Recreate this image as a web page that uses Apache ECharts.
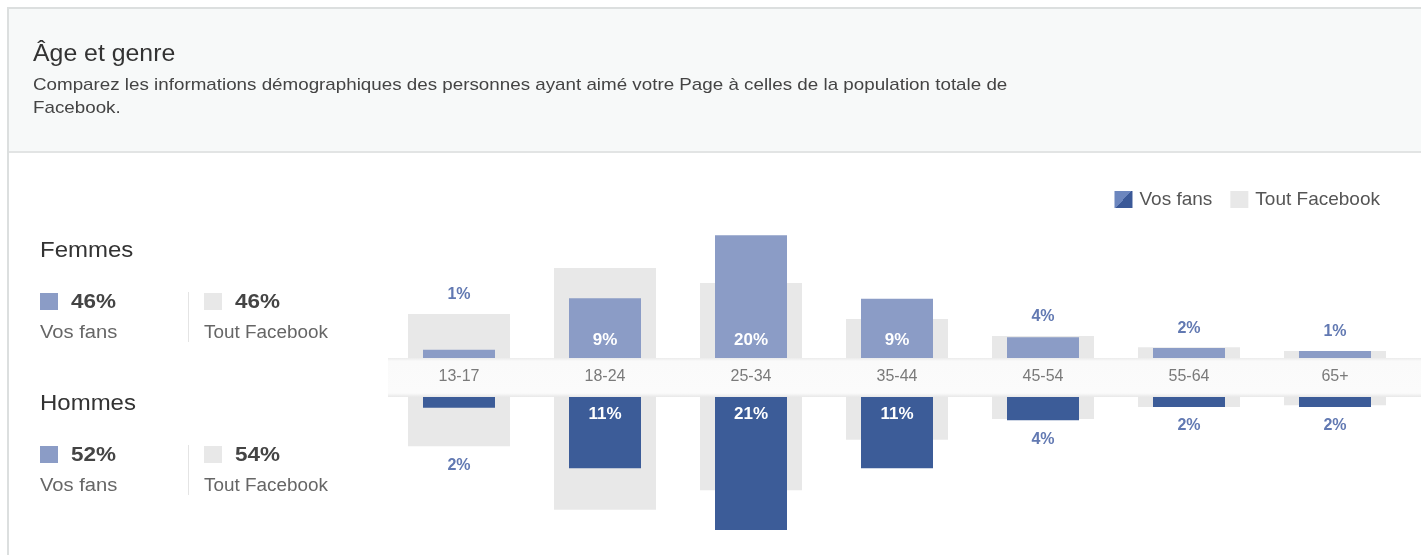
<!DOCTYPE html>
<html><head><meta charset="utf-8">
<script src="https://cdn.jsdelivr.net/npm/echarts@6/dist/echarts.min.js"></script>
<style>html,body{margin:0;padding:0;background:#fff}#c{width:1421px;height:555px}</style>
</head><body><div id="c"></div>
<script>
// ---- data ----
const categories = ['13-17', '18-24', '25-34', '35-44', '45-54', '55-64', '65+'];
const femmesFans = [1.3, 9.5, 19.5, 9.4, 3.3, 1.6, 1.1];
const femmesFacebook = [7.0, 14.3, 11.9, 6.2, 3.5, 1.7, 1.1];
const hommesFans = [1.7, 11.3, 21.1, 11.3, 3.7, 1.6, 1.6];
const hommesFacebook = [7.8, 17.9, 14.8, 6.8, 3.5, 1.6, 1.3];
const femmesLabels = ['1%', '9%', '20%', '9%', '4%', '2%', '1%'];
const hommesLabels = ['2%', '11%', '21%', '11%', '4%', '2%', '2%'];
const totalsFemmes = ['46%', '46%'];
const totalsHommes = ['52%', '54%'];
const legendNames = ['Vos fans', 'Tout Facebook'];

// ---- style ----
const FONT = '"Liberation Sans", Arial, sans-serif';
const C_FEM = '#8b9cc6', C_HOM = '#3c5c98', C_FB = '#e8e8e8', C_LBL = '#6279b2';
const YMAX = 24, PX = 6.3;
const bandTop = 358, bandBottom = 397, gridH = YMAX * PX;
const gridLeft = 386, gridWidth = 1022;
const INSIDE_MIN = 6;

function items(fans, fb, labels, isTop) {
  const fanItems = [], fbItems = [];
  fans.forEach((v, i) => {
    const inside = v >= INSIDE_MIN;
    const outPos = isTop ? 'top' : 'bottom';
    fanItems.push({
      value: v,
      label: {
        show: inside || v > fb[i],
        position: inside ? (isTop ? 'insideBottom' : 'insideTop') : outPos,
        color: inside ? '#ffffff' : C_LBL,
        distance: inside ? 9 : 11,
        fontSize: inside ? 17 : 16,
        formatter: labels[i]
      }
    });
    fbItems.push({
      value: fb[i],
      label: { show: !inside && fb[i] >= v, position: outPos, color: C_LBL, distance: 11, fontSize: 16, formatter: labels[i] }
    });
  });
  return { fanItems, fbItems };
}
const fem = items(femmesFans, femmesFacebook, femmesLabels, true);
const hom = items(hommesFans, hommesFacebook, hommesLabels, false);

const baseLabel = { fontFamily: FONT, fontWeight: 'bold' };
const hiddenX = (g) => ({ type: 'category', gridIndex: g, data: categories, show: false });

function txt(x, y, text, font, fill, sx) {
  return { type: 'text', x: x, y: y, scaleX: sx, style: { text: text, font: font, fill: fill, textVerticalAlign: 'middle' } };
}

function panel(y0, heading, totals) {
  return [
    txt(40, y0, heading, '22px ' + FONT, '#333', 1.09),
    { type: 'rect', shape: { x: 40, y: y0 + 42, width: 18, height: 17 }, style: { fill: C_FEM } },
    txt(71, y0 + 51, totals[0], 'bold 21px ' + FONT, '#444', 1.07),
    txt(40, y0 + 82, legendNames[0], '18px ' + FONT, '#666', 1.12),
    { type: 'rect', shape: { x: 188, y: y0 + 41, width: 1, height: 50 }, style: { fill: '#e4e4e4' } },
    { type: 'rect', shape: { x: 204, y: y0 + 42, width: 18, height: 17 }, style: { fill: C_FB } },
    txt(235, y0 + 51, totals[1], 'bold 21px ' + FONT, '#444', 1.07),
    txt(204, y0 + 82, legendNames[1], '18px ' + FONT, '#666', 1.05)
  ];
}

const chart = echarts.init(document.getElementById('c'));
chart.setOption({
  animation: false,
  backgroundColor: '#ffffff',
  textStyle: { fontFamily: FONT },
  graphic: [
    { type: 'rect', z: -10, shape: { x: 9, y: 9, width: 1412, height: 143 }, style: { fill: '#f7f9f9' } },
    { type: 'rect', z: -10, shape: { x: 7, y: 7, width: 1414, height: 2 }, style: { fill: '#dcdfdf' } },
    { type: 'rect', z: -10, shape: { x: 7, y: 7, width: 2, height: 548 }, style: { fill: '#dcdfdf' } },
    { type: 'rect', z: -10, shape: { x: 9, y: 151, width: 1412, height: 2 }, style: { fill: '#e2e4e4' } },
    txt(33, 55, 'Âge et genre', '23px ' + FONT, '#333', 1.08),
    txt(33, 85, 'Comparez les informations démographiques des personnes ayant aimé votre Page à celles de la population totale de', '17px ' + FONT, '#444', 1.105),
    txt(33, 108, 'Facebook.', '17px ' + FONT, '#444', 1.105),
    { type: 'rect', z: 0, shape: { x: 388, y: bandTop, width: 1033, height: bandBottom - bandTop },
      style: { fill: new echarts.graphic.LinearGradient(0, 0, 0, 1, [
        { offset: 0, color: '#ebebeb' }, { offset: 0.08, color: '#fafafa' },
        { offset: 0.9, color: '#fbfbfb' }, { offset: 1, color: '#e8e8e8' }]) } },
    ...panel(251, 'Femmes', totalsFemmes),
    ...panel(404, 'Hommes', totalsHommes)
  ],
  legend: {
    right: 36, top: 185, itemWidth: 18, itemHeight: 17, itemGap: 18, icon: 'rect',
    textStyle: { fontSize: 19, color: '#555', fontFamily: FONT, padding: [0, 0, 0, 2] },
    data: [
      { name: legendNames[0], itemStyle: { color: new echarts.graphic.LinearGradient(0, 0, 1, 1, [
        { offset: 0, color: '#6c86be' }, { offset: 0.5, color: '#6c86be' },
        { offset: 0.5, color: '#3b5998' }, { offset: 1, color: '#3b5998' }]) } },
      { name: legendNames[1], itemStyle: { color: C_FB } }
    ]
  },
  grid: [
    { left: gridLeft, width: gridWidth, top: bandTop - gridH, height: gridH },
    { left: gridLeft, width: gridWidth, top: bandBottom, height: gridH }
  ],
  xAxis: [
    { type: 'category', gridIndex: 0, data: categories, position: 'bottom', z: 10,
      axisLine: { show: false }, axisTick: { show: false },
      axisLabel: { margin: 11, fontSize: 16, color: '#7a7a7a', fontFamily: FONT } },
    hiddenX(0), hiddenX(1), hiddenX(1)
  ],
  yAxis: [
    { type: 'value', gridIndex: 0, min: 0, max: YMAX, show: false, splitLine: { show: false } },
    { type: 'value', gridIndex: 1, min: 0, max: YMAX, inverse: true, show: false, splitLine: { show: false } }
  ],
  series: [
    { name: legendNames[1], type: 'bar', xAxisIndex: 1, yAxisIndex: 0, barWidth: 102, z: 1,
      itemStyle: { color: C_FB }, label: baseLabel, data: fem.fbItems },
    { name: legendNames[0], type: 'bar', xAxisIndex: 0, yAxisIndex: 0, barWidth: 72, z: 2,
      itemStyle: { color: C_FEM }, label: baseLabel, data: fem.fanItems },
    { name: legendNames[1], type: 'bar', xAxisIndex: 3, yAxisIndex: 1, barWidth: 102, z: 1,
      itemStyle: { color: C_FB }, label: baseLabel, data: hom.fbItems },
    { name: legendNames[0], type: 'bar', xAxisIndex: 2, yAxisIndex: 1, barWidth: 72, z: 2,
      itemStyle: { color: C_HOM }, label: baseLabel, data: hom.fanItems }
  ]
});
</script></body></html>
